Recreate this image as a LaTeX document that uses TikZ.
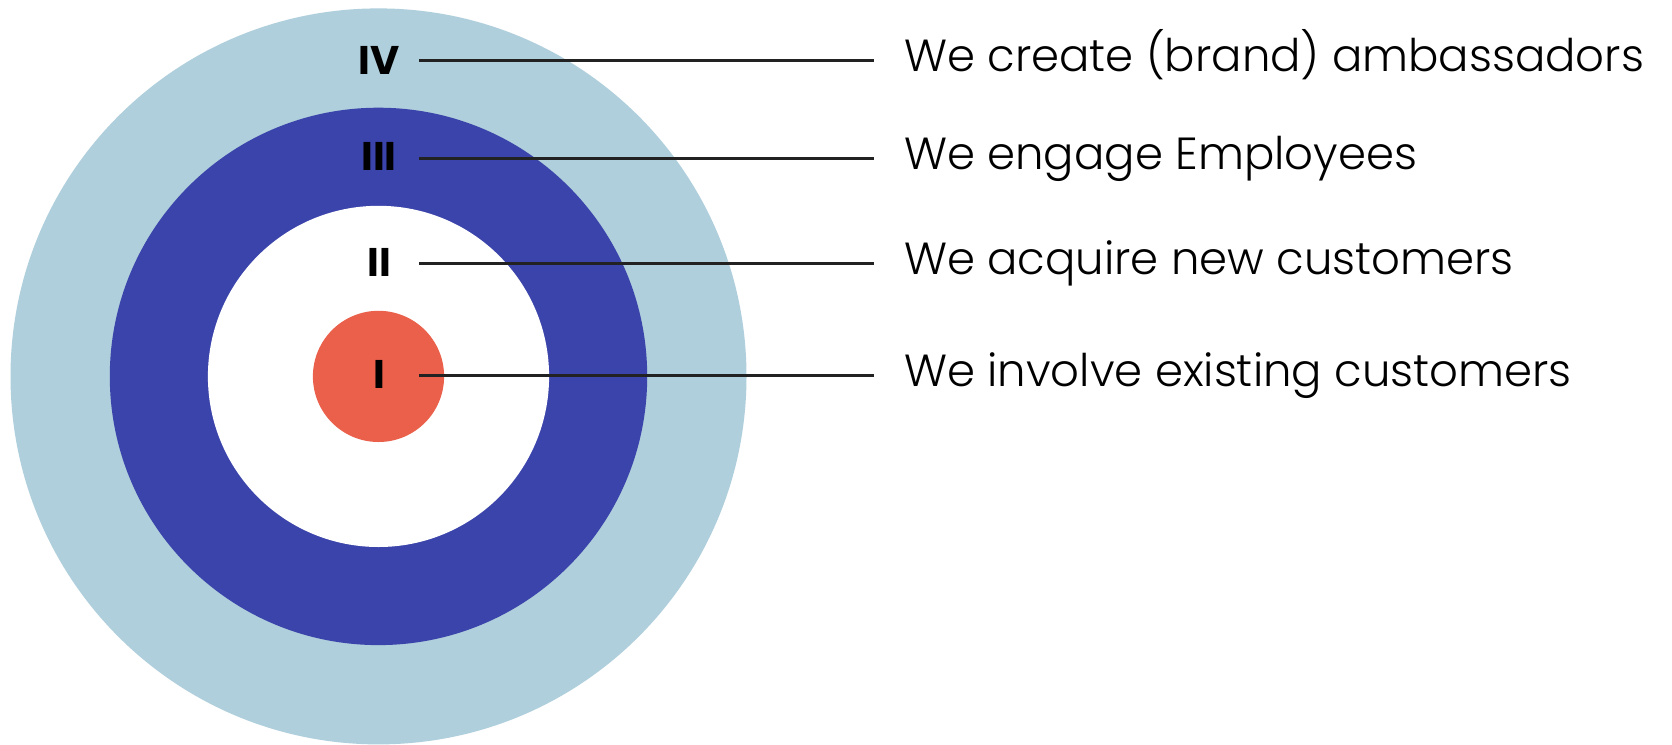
\documentclass[tikz,border=0pt]{standalone}
\usepackage{fontspec}
\setmainfont{Poppins}[UprightFont=* Light, BoldFont=* Bold]
\definecolor{ringpale}{HTML}{AFCFDC}
\definecolor{ringdeep}{HTML}{3B44AB}
\definecolor{core}{HTML}{EA604A}
\definecolor{leader}{HTML}{222222}
\begin{document}
\begin{tikzpicture}[x=1pt,y=-1pt,
  numeral/.style={font=\fontsize{40}{40}\selectfont\bfseries, inner sep=0pt, anchor=center},
  caption/.style={font=\fontsize{45}{45}\selectfont, inner sep=0pt, anchor=base west},
  leaderline/.style={draw=leader, line width=3.2pt, shorten >=30pt}]
  \useasboundingbox[fill=white] (0,0) rectangle (1672,744);
  % concentric target rings
  \fill[ringpale] (378.5,376.4) circle[radius=368pt];
  \fill[ringdeep] (378.5,376.4) circle[radius=268.7pt];
  \fill[white]    (378.5,376.4) circle[radius=170.6pt];
  \fill[core]     (378.5,376.4) circle[radius=65.6pt];
  % ring numerals
  \node[numeral] (n4) at (379,60) {IV};
  \node[numeral] (n3) at (379,156) {III};
  \node[numeral] (n2) at (379,262) {II};
  \node[numeral] (n1) at (379,374) {I};
  % leader start points
  \coordinate (s4) at (419,60.8);
  \coordinate (s3) at (419,158.2);
  \coordinate (s2) at (419,263.3);
  \coordinate (s1) at (419,375.3);
  % captions
  \node[caption] (t4) at (904,71.5) {We create (brand) ambassadors};
  \node[caption] (t3) at (904,169) {We engage Employees};
  \node[caption] (t2) at (904,274) {We acquire new customers};
  \node[caption] (t1) at (904,386) {We involve existing customers};
  % leader lines
  \draw[leaderline] (s4) -- (s4 -| t4.west);
  \draw[leaderline] (s3) -- (s3 -| t3.west);
  \draw[leaderline] (s2) -- (s2 -| t2.west);
  \draw[leaderline] (s1) -- (s1 -| t1.west);
\end{tikzpicture}
\end{document}
